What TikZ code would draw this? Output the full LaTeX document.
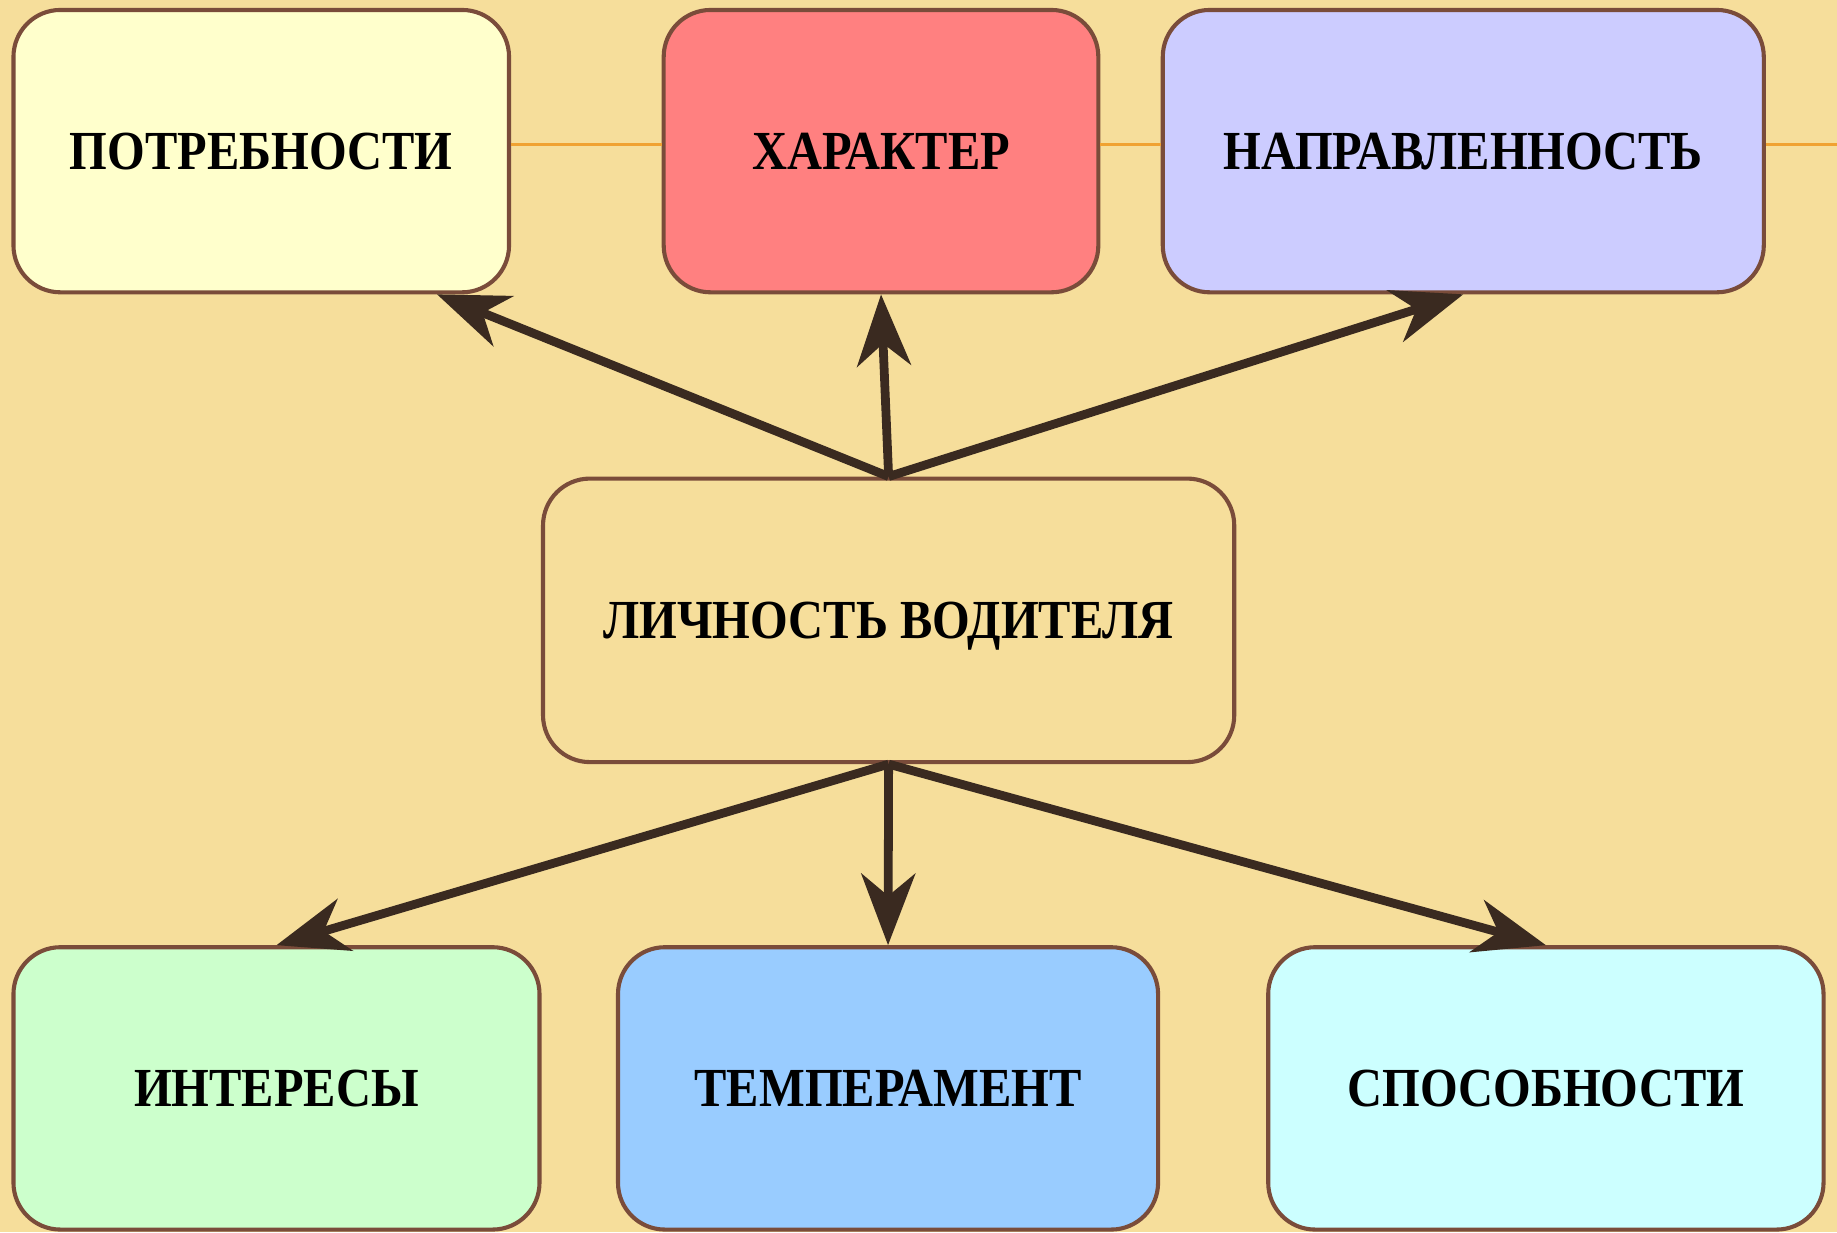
\documentclass[tikz,border=0pt]{standalone}
\usepackage{fontspec}
\setmainfont{Liberation Serif}[FakeStretch=0.88]
\usetikzlibrary{arrows.meta}
\definecolor{pagebg}{RGB}{246,222,155}
\definecolor{boxborder}{RGB}{122,76,58}
\definecolor{arrowcol}{RGB}{58,42,32}
\definecolor{linkcol}{RGB}{240,162,50}
\definecolor{needbg}{RGB}{255,255,204}
\definecolor{charbg}{RGB}{255,128,128}
\definecolor{dirbg}{RGB}{204,204,255}
\definecolor{interbg}{RGB}{204,255,204}
\definecolor{tempbg}{RGB}{153,204,255}
\definecolor{abilbg}{RGB}{204,255,255}
\tikzset{
  trait/.style={draw=boxborder, line width=3.5pt, rounded corners=40pt,
    minimum height=241pt, inner sep=0pt, align=center,
    text height=31pt, text depth=0pt,
    font=\bfseries\fontsize{47}{56}\selectfont},
  link/.style={draw=linkcol, line width=2.5pt},
  pointer/.style={draw=arrowcol, line width=7.5pt,
    -{Stealth[length=61pt,width=46pt,inset=19pt]}}
}

\begin{document}
\begin{tikzpicture}[x=1pt,y=-1pt]
\fill[pagebg] (0,0) rectangle (1568,1052);
\useasboundingbox (0,0) rectangle (1568,1052);
% top row
\node[trait, fill=needbg, minimum width=423pt] (need) at (223,129) {ПОТРЕБНОСТИ};
\node[trait, fill=charbg, minimum width=371pt] (char) at (752,129) {ХАРАКТЕР};
\node[trait, fill=dirbg, minimum width=513pt] (dir) at (1249,129) {НАПРАВЛЕННОСТЬ};
\coordinate (edge) at (1568,123);
% centre
\node[trait, fill=pagebg, minimum width=590pt, minimum height=242pt] (driver) at (758.5,529.5) {ЛИЧНОСТЬ ВОДИТЕЛЯ};
% bottom row
\node[trait, fill=interbg, minimum width=449pt] (inter) at (236,929) {ИНТЕРЕСЫ};
\node[trait, fill=tempbg, minimum width=461pt] (temp) at (758,929) {ТЕМПЕРАМЕНТ};
\node[trait, fill=abilbg, minimum width=474pt] (abil) at (1319.5,929) {СПОСОБНОСТИ};
% links between top boxes
\draw[link] ([yshift=6pt]need.east) -- ([yshift=6pt]char.west);
\draw[link] ([yshift=6pt]char.east) -- ([yshift=6pt]dir.west);
\draw[link] ([yshift=6pt]dir.east) -- (edge);
% arrows
\draw[pointer] (driver.north) -- ([xshift=150pt]need.south);
\draw[pointer] (driver.north) -- (char.south);
\draw[pointer] (driver.north) -- (dir.south);
\draw[pointer] (driver.south) -- (inter.north);
\draw[pointer] (driver.south) -- (temp.north);
\draw[pointer] (driver.south) -- (abil.north);
\end{tikzpicture}
\end{document}
